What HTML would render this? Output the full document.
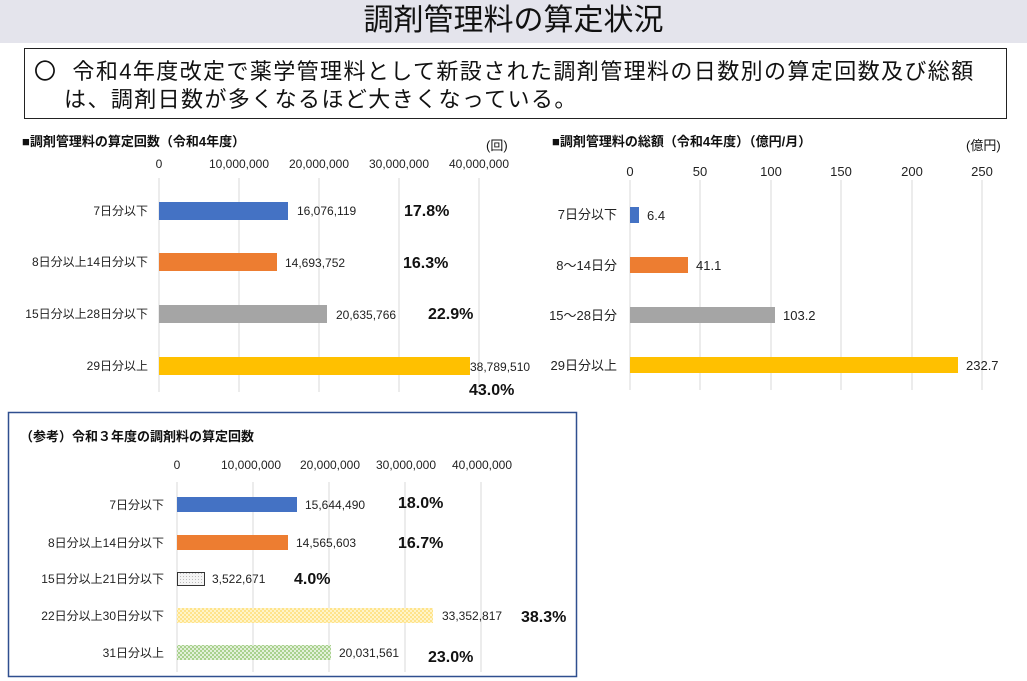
<!DOCTYPE html><html><head><meta charset="utf-8"><style>
body{margin:0;width:1027px;height:681px;background:#fff;position:relative;overflow:hidden;font-family:"Liberation Sans","Noto Sans CJK JP",sans-serif}
.a{position:absolute;white-space:nowrap}
</style></head><body>
<div class="a" style="left:0;top:0;width:1027px;height:43px;background:#e4e4ec"></div>
<div class="a" style="left:0;top:1px;width:1027px;text-align:center;font-size:30px;line-height:40px;color:#111">調剤管理料の算定状況</div>
<div class="a" style="left:24px;top:48px;width:981px;height:69px;border:1.5px solid #222"></div>
<div class="a" style="left:34px;top:58px;font-size:22px;line-height:28px;color:#111;letter-spacing:1.4px">〇&nbsp; 令和4年度改定で薬学管理料として新設された調剤管理料の日数別の算定回数及び総額<br>&nbsp;&nbsp;&nbsp;&nbsp;は、調剤日数が多くなるほど大きくなっている。</div>
<svg class="a" style="left:0;top:0" width="1027" height="681" font-family="Liberation Sans,Noto Sans CJK JP,sans-serif">
<g font-size="13" font-weight="bold" fill="#111">
<text x="22" y="146">■調剤管理料の算定回数（令和4年度）</text>
<text x="486" y="150" font-weight="normal">(回)</text>
<text x="552" y="146">■調剤管理料の総額（令和4年度）（億円/月）</text>
<text x="966" y="150" font-weight="normal">(億円)</text>
</g>
<g stroke="#d9d9d9"><line x1="159" y1="178" x2="159" y2="392"/><line x1="239" y1="178" x2="239" y2="392"/><line x1="319" y1="178" x2="319" y2="392"/><line x1="399" y1="178" x2="399" y2="392"/><line x1="479" y1="178" x2="479" y2="392"/></g>
<g font-size="12" fill="#222" text-anchor="middle"><text x="159" y="168">0</text><text x="239" y="168">10,000,000</text><text x="319" y="168">20,000,000</text><text x="399" y="168">30,000,000</text><text x="479" y="168">40,000,000</text></g>
<g font-size="12" fill="#222" text-anchor="end"><text x="148" y="215">7日分以下</text><text x="148" y="266">8日分以上14日分以下</text><text x="148" y="318">15日分以上28日分以下</text><text x="148" y="370">29日分以上</text></g>
<rect x="159" y="202" width="129" height="18" fill="#4472c4"/><rect x="159" y="253" width="118" height="18" fill="#ed7d31"/><rect x="159" y="305" width="168" height="18" fill="#a5a5a5"/><rect x="159" y="357" width="311" height="18" fill="#ffc000"/>
<g font-size="12" fill="#222"><text x="297" y="215">16,076,119</text><text x="285" y="267">14,693,752</text><text x="336" y="319">20,635,766</text><text x="470" y="371">38,789,510</text></g>
<g font-size="16" font-weight="bold" fill="#111"><text x="404" y="216">17.8%</text><text x="403" y="268">16.3%</text><text x="428" y="319">22.9%</text><text x="469" y="395">43.0%</text></g>
<g stroke="#d9d9d9"><line x1="630" y1="180" x2="630" y2="390"/><line x1="700" y1="180" x2="700" y2="390"/><line x1="771" y1="180" x2="771" y2="390"/><line x1="841" y1="180" x2="841" y2="390"/><line x1="912" y1="180" x2="912" y2="390"/><line x1="982" y1="180" x2="982" y2="390"/></g>
<g font-size="13" fill="#222" text-anchor="middle"><text x="630" y="176">0</text><text x="700" y="176">50</text><text x="771" y="176">100</text><text x="841" y="176">150</text><text x="912" y="176">200</text><text x="982" y="176">250</text></g>
<g font-size="13" fill="#222" text-anchor="end"><text x="617" y="219">7日分以下</text><text x="617" y="270">8～14日分</text><text x="617" y="320">15～28日分</text><text x="617" y="370">29日分以上</text></g>
<rect x="630" y="207" width="9" height="16" fill="#4472c4"/><rect x="630" y="257" width="58" height="16" fill="#ed7d31"/><rect x="630" y="307" width="145" height="16" fill="#a5a5a5"/><rect x="630" y="357" width="328" height="16" fill="#ffc000"/>
<g font-size="13" fill="#222"><text x="647" y="220">6.4</text><text x="696" y="270">41.1</text><text x="783" y="320">103.2</text><text x="966" y="370">232.7</text></g>
<defs>
<pattern id="p1" width="3" height="3" patternUnits="userSpaceOnUse"><rect width="3" height="3" fill="#f4f4f4"/><rect width="1" height="1" fill="#bbb"/></pattern>
<pattern id="p2" width="4" height="4" patternUnits="userSpaceOnUse"><rect width="4" height="4" fill="#ffe38a"/><rect width="2" height="2" fill="#fff4c8"/><rect x="2" y="2" width="2" height="2" fill="#fff4c8"/></pattern>
<pattern id="p3" width="4" height="4" patternUnits="userSpaceOnUse"><rect width="4" height="4" fill="#a9d18e"/><rect width="2" height="2" fill="#e2f0d9"/><rect x="2" y="2" width="2" height="2" fill="#e2f0d9"/></pattern>
</defs>
<rect x="8.5" y="412.5" width="568" height="264" fill="none" stroke="#2f4f8f" stroke-width="1.5"/>
<text x="20" y="441" font-size="13" font-weight="bold" fill="#111">（参考）令和３年度の調剤料の算定回数</text>
<g stroke="#d9d9d9"><line x1="177" y1="482" x2="177" y2="672"/><line x1="253" y1="482" x2="253" y2="672"/><line x1="329" y1="482" x2="329" y2="672"/><line x1="405" y1="482" x2="405" y2="672"/><line x1="481" y1="482" x2="481" y2="672"/></g>
<g font-size="12" fill="#222" text-anchor="middle"><text x="177" y="469">0</text><text x="251" y="469">10,000,000</text><text x="330" y="469">20,000,000</text><text x="406" y="469">30,000,000</text><text x="482" y="469">40,000,000</text></g>
<g font-size="12" fill="#222" text-anchor="end"><text x="164" y="509">7日分以下</text><text x="164" y="547">8日分以上14日分以下</text><text x="164" y="583">15日分以上21日分以下</text><text x="164" y="620">22日分以上30日分以下</text><text x="164" y="657">31日分以上</text></g>
<rect x="177" y="497" width="120" height="15" fill="#4472c4"/><rect x="177" y="535" width="111" height="15" fill="#ed7d31"/><rect x="177.5" y="572.5" width="27" height="13" fill="url(#p1)" stroke="#333"/><rect x="177" y="608" width="256" height="15" fill="url(#p2)"/><rect x="177" y="645" width="154" height="15" fill="url(#p3)"/>
<g font-size="12" fill="#222"><text x="305" y="509">15,644,490</text><text x="296" y="547">14,565,603</text><text x="212" y="583">3,522,671</text><text x="442" y="620">33,352,817</text><text x="339" y="657">20,031,561</text></g>
<g font-size="16" font-weight="bold" fill="#111"><text x="398" y="508">18.0%</text><text x="398" y="548">16.7%</text><text x="294" y="584">4.0%</text><text x="521" y="622">38.3%</text><text x="428" y="662">23.0%</text></g>
</svg>
</body></html>
